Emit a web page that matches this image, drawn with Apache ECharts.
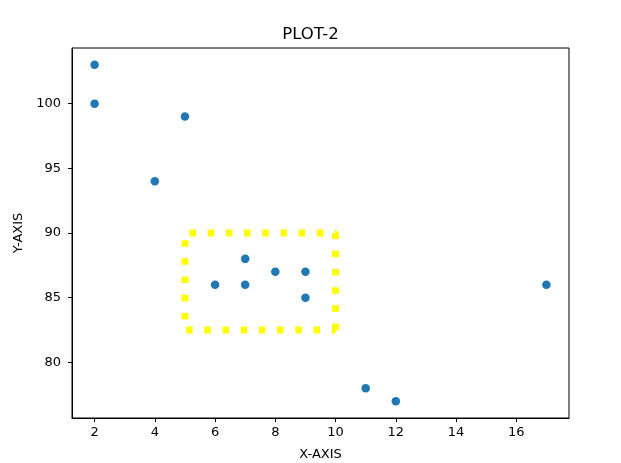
<!DOCTYPE html>
<html><head><meta charset="utf-8">
<script src="https://cdn.jsdelivr.net/npm/echarts@6/dist/echarts.min.js"></script>
<style>html,body{margin:0;padding:0;background:#fff}#c{width:621px;height:463px}</style>
</head><body><div id="c"></div>
<script>
const xValues = [2, 2, 5, 4, 7, 7, 6, 8, 9, 9, 17, 11, 12];
const yValues = [103, 100, 99, 94, 88, 86, 86, 87, 87, 85, 86, 78, 77];
const boxX = [10, 10, 5, 5, 10];
const boxY = [82.5, 90, 90, 82.5, 82.5];
const xTicks = [2, 4, 6, 8, 10, 12, 14, 16];
const yTicks = [80, 85, 90, 95, 100];

const font = 'DejaVu Sans';
const chart = echarts.init(document.getElementById('c'), null, {renderer: 'canvas'});
chart.setOption({
  animation: false,
  title: {text: 'PLOT-2', left: 'center', top: 26, padding: 0,
    textStyle: {fontFamily: font, fontSize: 16.5, fontWeight: 'normal', color: '#000'}},
  grid: {left: 72, right: 52, top: 48, bottom: 45, show: true, borderColor: '#000', borderWidth: 1,
    containLabel: false, outerBoundsMode: 'none'},
  xAxis: {type: 'value', min: 1.25, max: 17.75,
    name: 'X-AXIS', nameLocation: 'middle', nameGap: 30,
    nameTextStyle: {fontFamily: font, fontSize: 13, color: '#000'},
    axisLine: {show: true, lineStyle: {color: '#000'}},
    axisTick: {show: true, length: 4, customValues: xTicks, lineStyle: {color: '#000'}},
    axisLabel: {customValues: xTicks, fontFamily: font, fontSize: 13, color: '#000', margin: 8},
    splitLine: {show: false}},
  yAxis: {type: 'value', min: 75.7, max: 104.3,
    name: 'Y-AXIS', nameLocation: 'middle', nameGap: 42, nameRotate: 90,
    nameTextStyle: {fontFamily: font, fontSize: 13, color: '#000'},
    axisLine: {show: true, lineStyle: {color: '#000'}},
    axisTick: {show: true, length: 4, customValues: yTicks, lineStyle: {color: '#000'}},
    axisLabel: {customValues: yTicks, fontFamily: font, fontSize: 13, color: '#000', margin: 11},
    splitLine: {show: false}},
  series: [
    {type: 'line', data: boxX.map((x, i) => [x, boxY[i]]), symbol: 'none', z: 1,
      lineStyle: {color: '#ffff00', width: 7, type: [6.5, 11.7], cap: 'butt'}},
    {type: 'scatter', data: xValues.map((x, i) => [x, yValues[i]]), symbolSize: 8.5, z: 2,
      itemStyle: {color: '#1f77b4', opacity: 1}}
  ]
});
</script></body></html>
